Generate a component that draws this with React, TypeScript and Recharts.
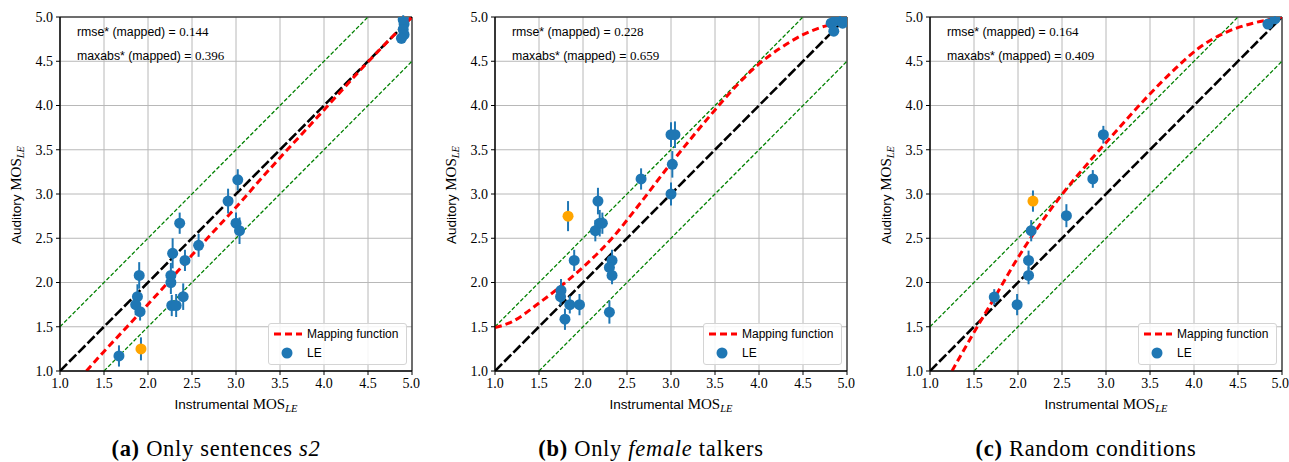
import { ComposedChart, Scatter, Line, XAxis, YAxis, CartesianGrid, ErrorBar, ReferenceArea } from "recharts";

const ticks = [1.0, 1.5, 2.0, 2.5, 3.0, 3.5, 4.0, 4.5, 5.0];

// reference lines (identity and +/-0.5 band)
const identity = [{ x: 1, y: 1 }, { x: 5, y: 5 }];
const upperBand = [{ x: 1, y: 1.5 }, { x: 4.5, y: 5 }];
const lowerBand = [{ x: 1.5, y: 1 }, { x: 5, y: 4.5 }];

// (a) only sentences s2
const leA = [
  { x: 1.67, y: 1.17, e: 0.12 },
  { x: 1.88, y: 1.84, e: 0.14 },
  { x: 1.86, y: 1.75, e: 0.12 },
  { x: 1.91, y: 1.67, e: 0.1 },
  { x: 1.9, y: 2.08, e: 0.15 },
  { x: 2.28, y: 2.33, e: 0.17 },
  { x: 2.26, y: 2.08, e: 0.14 },
  { x: 2.26, y: 2.0, e: 0.13 },
  { x: 2.27, y: 1.74, e: 0.12 },
  { x: 2.32, y: 1.74, e: 0.13 },
  { x: 2.4, y: 1.84, e: 0.15 },
  { x: 2.42, y: 2.25, e: 0.12 },
  { x: 2.36, y: 2.67, e: 0.12 },
  { x: 2.575, y: 2.42, e: 0.13 },
  { x: 2.91, y: 2.92, e: 0.14 },
  { x: 3.0, y: 2.67, e: 0.12 },
  { x: 3.04, y: 2.585, e: 0.15 },
  { x: 3.02, y: 3.16, e: 0.12 },
  { x: 4.9, y: 4.97, e: 0.05 },
  { x: 4.91, y: 4.92, e: 0.06 },
  { x: 4.9, y: 4.86, e: 0.07 },
  { x: 4.91, y: 4.8, e: 0.07 },
  { x: 4.88, y: 4.76, e: 0.06 },
];
const hiA = [{ x: 1.92, y: 1.25, e: 0.13 }];
const mapA = [
  { x: 1.3, y: 1.0 }, { x: 1.49, y: 1.21 }, { x: 1.8, y: 1.54 }, { x: 2.18, y: 1.95 },
  { x: 2.5, y: 2.31 }, { x: 2.74, y: 2.57 }, { x: 3.0, y: 2.85 }, { x: 3.31, y: 3.2 },
  { x: 3.5, y: 3.41 }, { x: 3.76, y: 3.69 }, { x: 4.0, y: 3.95 }, { x: 4.45, y: 4.44 },
  { x: 5.0, y: 5.0 },
];

// (b) only female talkers
const leB = [
  { x: 2.17, y: 2.92, e: 0.15 },
  { x: 2.14, y: 2.585, e: 0.12 },
  { x: 2.19, y: 2.67, e: 0.15 },
  { x: 2.22, y: 2.67, e: 0.12 },
  { x: 1.9, y: 2.25, e: 0.12 },
  { x: 2.33, y: 2.25, e: 0.12 },
  { x: 2.3, y: 2.17, e: 0.1 },
  { x: 2.33, y: 2.08, e: 0.1 },
  { x: 1.75, y: 1.91, e: 0.13 },
  { x: 1.745, y: 1.84, e: 0.1 },
  { x: 1.85, y: 1.75, e: 0.1 },
  { x: 1.96, y: 1.75, e: 0.12 },
  { x: 1.795, y: 1.585, e: 0.12 },
  { x: 2.3, y: 1.665, e: 0.13 },
  { x: 2.66, y: 3.17, e: 0.12 },
  { x: 3.0, y: 3.0, e: 0.13 },
  { x: 3.015, y: 3.335, e: 0.15 },
  { x: 3.0, y: 3.67, e: 0.14 },
  { x: 3.045, y: 3.67, e: 0.15 },
  { x: 4.82, y: 4.93, e: 0.04 },
  { x: 4.87, y: 4.96, e: 0.04 },
  { x: 4.92, y: 4.97, e: 0.04 },
  { x: 4.95, y: 4.93, e: 0.04 },
  { x: 4.98, y: 4.96, e: 0.04 },
  { x: 4.85, y: 4.84, e: 0.05 },
];
const hiB = [{ x: 1.83, y: 2.75, e: 0.17 }];
const mapB = [
  { x: 1.0, y: 1.49 }, { x: 1.19, y: 1.555 }, { x: 1.49, y: 1.76 }, { x: 1.7, y: 1.92 },
  { x: 2.02, y: 2.19 }, { x: 2.33, y: 2.5 }, { x: 2.63, y: 2.87 }, { x: 2.97, y: 3.31 },
  { x: 3.28, y: 3.69 }, { x: 3.5, y: 3.95 }, { x: 3.74, y: 4.22 }, { x: 4.0, y: 4.47 },
  { x: 4.23, y: 4.64 }, { x: 4.5, y: 4.8 }, { x: 4.76, y: 4.9 }, { x: 5.0, y: 4.94 },
];

// (c) random conditions
const leC = [
  { x: 2.15, y: 2.585, e: 0.12 },
  { x: 2.55, y: 2.755, e: 0.13 },
  { x: 2.85, y: 3.17, e: 0.1 },
  { x: 2.12, y: 2.25, e: 0.11 },
  { x: 2.12, y: 2.08, e: 0.1 },
  { x: 1.73, y: 1.835, e: 0.09 },
  { x: 1.99, y: 1.75, e: 0.12 },
  { x: 2.97, y: 3.67, e: 0.1 },
  { x: 4.84, y: 4.92, e: 0.03 },
  { x: 4.92, y: 4.98, e: 0.03 },
];
const hiC = [{ x: 2.17, y: 2.92, e: 0.12 }];
const mapC = [
  { x: 1.25, y: 1.0 }, { x: 1.49, y: 1.42 }, { x: 1.74, y: 1.84 }, { x: 1.95, y: 2.2 },
  { x: 2.21, y: 2.6 }, { x: 2.52, y: 3.02 }, { x: 2.84, y: 3.4 }, { x: 3.16, y: 3.76 },
  { x: 3.47, y: 4.1 }, { x: 3.77, y: 4.4 }, { x: 4.07, y: 4.66 }, { x: 4.37, y: 4.83 },
  { x: 4.67, y: 4.93 }, { x: 4.9, y: 4.98 }, { x: 5.0, y: 5.0 },
];

const BLUE = "#1f77b4";
const ORANGE = "#ffa500";
const SERIF = "'Liberation Serif', 'DejaVu Serif', serif";
const SANS = "'Liberation Sans', Arial, sans-serif";

const dot = (fill: string) => (p: any) => <circle cx={p.cx} cy={p.cy} r={5.5} fill={fill} />;

function MosLabel({ name }: { name: string }) {
  return (
    <span style={{ whiteSpace: "nowrap" }}>
      <span style={{ fontFamily: SANS, fontSize: 13.5 }}>{name} </span>
      <span style={{ fontFamily: SERIF, fontSize: 15 }}>MOS</span>
      <span style={{ fontFamily: SERIF, fontSize: 10.5, fontStyle: "italic", position: "relative", top: 3 }}>LE</span>
    </span>
  );
}

interface PanelProps {
  left: number;
  width: number;
  le: { x: number; y: number; e: number }[];
  hi: { x: number; y: number; e: number }[];
  map: { x: number; y: number }[];
  rmse: string;
  maxabs: string;
  caption: React.ReactNode;
}

function Panel({ left, width, le, hi, map, rmse, maxabs, caption }: PanelProps) {
  const pl = 60;
  const pt = 17;
  const pw = 352;
  const ph = 354;
  const tick = { fontFamily: SERIF, fontSize: 14, fill: "#000" };
  return (
    <div style={{ position: "absolute", left, top: 0, width, height: 462 }}>
      <ComposedChart width={width} height={420} margin={{ top: pt, right: width - pl - pw, bottom: 19, left: 0 }}>
        <CartesianGrid stroke="#b8b8b8" strokeWidth={1} />
        <XAxis
          type="number"
          dataKey="x"
          domain={[1, 5]}
          ticks={ticks}
          allowDataOverflow
          tickFormatter={(v: number) => v.toFixed(1)}
          tick={tick}
          tickSize={4}
          tickMargin={3}
          height={30}
          stroke="#000"
        />
        <YAxis
          type="number"
          dataKey="y"
          domain={[1, 5]}
          ticks={ticks}
          allowDataOverflow
          tickFormatter={(v: number) => v.toFixed(1)}
          tick={tick}
          tickSize={4}
          tickMargin={3}
          width={pl}
          stroke="#000"
        />
        <Line data={upperBand} dataKey="y" type="linear" stroke="#008000" strokeWidth={1.3} strokeDasharray="4 2" dot={false} isAnimationActive={false} />
        <Line data={lowerBand} dataKey="y" type="linear" stroke="#008000" strokeWidth={1.3} strokeDasharray="4 2" dot={false} isAnimationActive={false} />
        <Line data={identity} dataKey="y" type="linear" stroke="#000" strokeWidth={2.6} strokeDasharray="10 3" dot={false} isAnimationActive={false} />
        <Line data={map} dataKey="y" type="monotone" stroke="#ff0000" strokeWidth={3} strokeDasharray="7 4" dot={false} isAnimationActive={false} />
        <Scatter data={le} fill={BLUE} shape={dot(BLUE)} isAnimationActive={false}>
          <ErrorBar dataKey="e" direction="y" width={0} stroke={BLUE} strokeWidth={2} />
        </Scatter>
        <Scatter data={hi} fill={ORANGE} shape={dot(ORANGE)} isAnimationActive={false}>
          <ErrorBar dataKey="e" direction="y" width={0} stroke={BLUE} strokeWidth={2} />
        </Scatter>
        <ReferenceArea x1={1} x2={5} y1={1} y2={5} fill="none" stroke="#000" strokeWidth={1} ifOverflow="visible" />
      </ComposedChart>

      <div style={{ position: "absolute", left: pl + 17, top: pt + 3, fontFamily: SANS, fontSize: 12.3, lineHeight: "23px", color: "#000", whiteSpace: "nowrap" }}>
        <div>rmse* (mapped) = <span style={{ fontFamily: SERIF, fontSize: 13 }}>0.{rmse}</span></div>
        <div>maxabs* (mapped) = <span style={{ fontFamily: SERIF, fontSize: 13 }}>0.{maxabs}</span></div>
      </div>

      <div
        style={{
          position: "absolute",
          left: pl + 208,
          top: pt + 306,
          width: 137,
          height: 40,
          border: "1px solid #d4d4d4",
          borderRadius: 3,
          background: "rgba(255,255,255,0.85)",
          fontFamily: SANS,
          fontSize: 12,
          color: "#000",
        }}
      >
        <svg width={30} height={40} style={{ position: "absolute", left: 4, top: 0 }}>
          <line x1={1} y1={10} x2={29} y2={10} stroke="#ff0000" strokeWidth={3} strokeDasharray="7 4" />
          <circle cx={14} cy={29} r={5.5} fill={BLUE} />
        </svg>
        <div style={{ position: "absolute", left: 38, top: 3 }}>Mapping function</div>
        <div style={{ position: "absolute", left: 38, top: 22 }}>LE</div>
      </div>

      <div style={{ position: "absolute", left: pl, width: pw, top: 395, textAlign: "center", lineHeight: "18px" }}>
        <MosLabel name="Instrumental" />
      </div>
      <div
        style={{
          position: "absolute",
          left: 17 - 100,
          width: 200,
          top: pt + ph / 2 - 10,
          textAlign: "center",
          lineHeight: "20px",
          transform: "rotate(-90deg)",
        }}
      >
        <MosLabel name="Auditory" />
      </div>

      <div style={{ position: "absolute", left: 0, width: 432, top: 436, textAlign: "center", fontFamily: SERIF, fontSize: 22.5, lineHeight: "26px", letterSpacing: 0.7, whiteSpace: "nowrap" }}>
        {caption}
      </div>
    </div>
  );
}

export default function App() {
  return (
    <div style={{ position: "absolute", left: 0, top: 0, width: 1289, height: 462, background: "#fff", overflow: "hidden" }}>
      <Panel left={0} width={420} le={leA} hi={hiA} map={mapA} rmse="144" maxabs="396"
        caption={<><b>(a)</b> Only sentences <i>s2</i></>} />
      <Panel left={435} width={420} le={leB} hi={hiB} map={mapB} rmse="228" maxabs="659"
        caption={<><b>(b)</b> Only <i>female</i> talkers</>} />
      <Panel left={870} width={419} le={leC} hi={hiC} map={mapC} rmse="164" maxabs="409"
        caption={<><b>(c)</b> Random conditions</>} />
    </div>
  );
}
